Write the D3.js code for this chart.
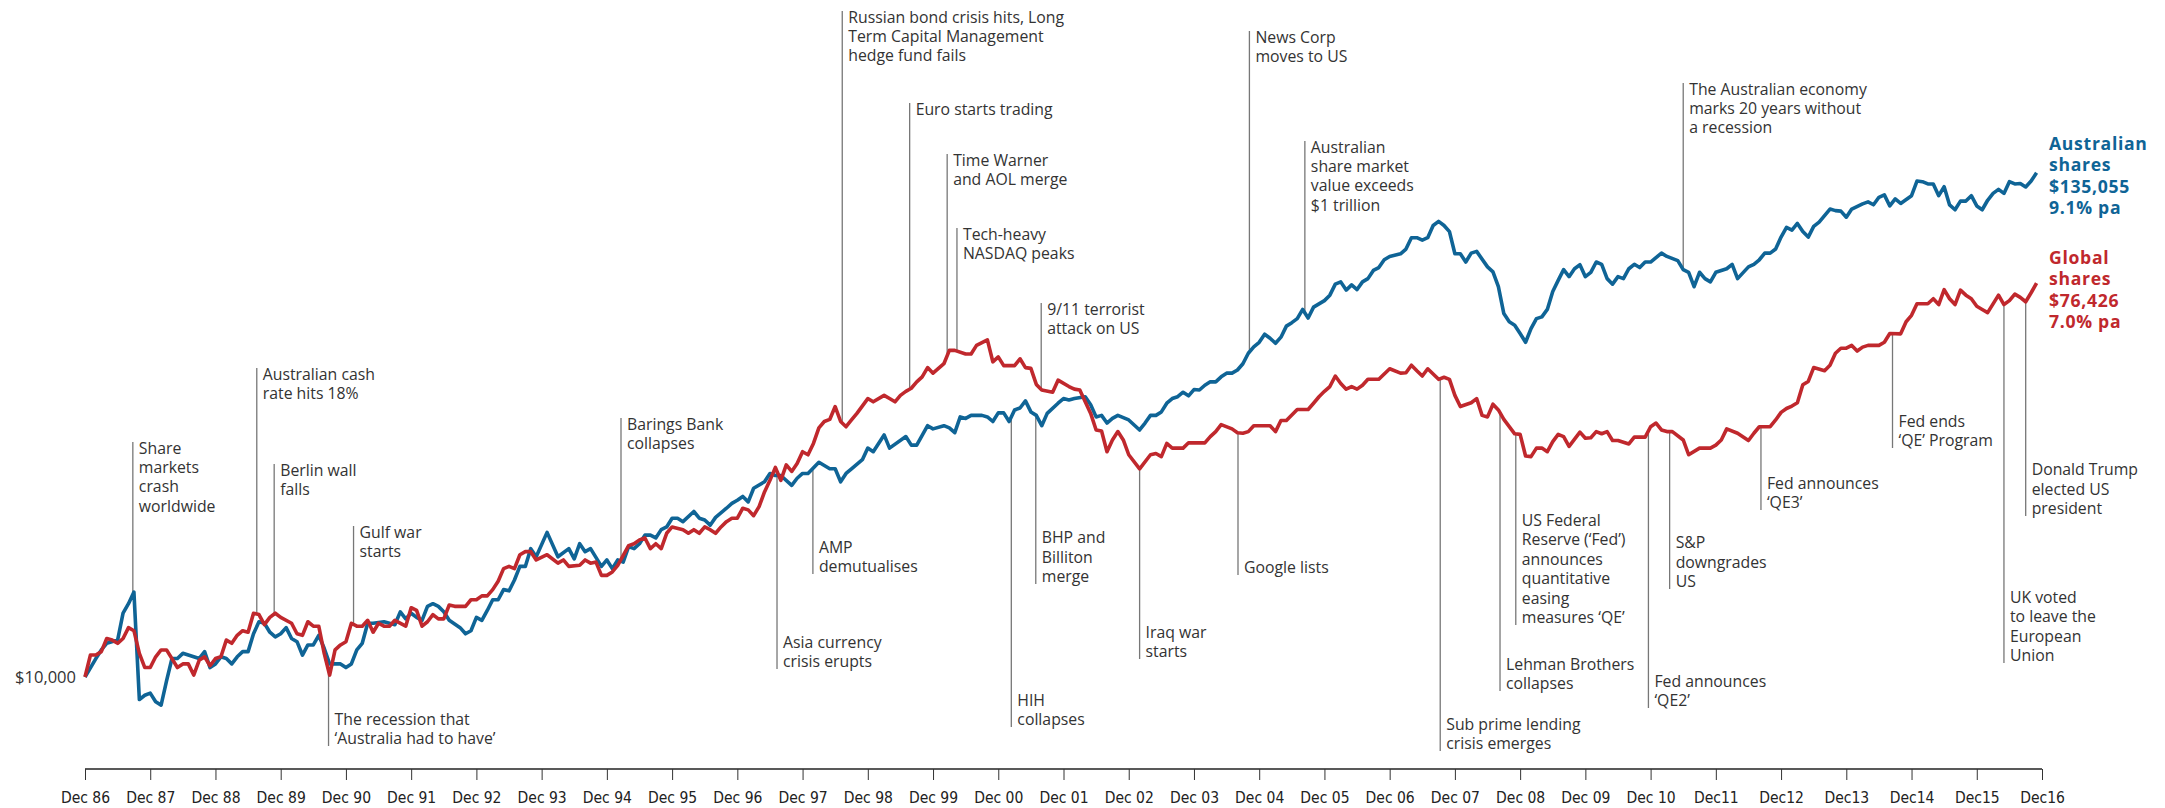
<!DOCTYPE html>
<html>
<head>
<meta charset="utf-8">
<script src="https://cdn.jsdelivr.net/npm/d3@7"></script>
<style>
  body { margin: 0; background: #fff; }
  svg text { font-family: "Open Sans", "Noto Sans", sans-serif; }
</style>
</head>
<body>
<div id="chart"></div>
<script>
// months since Dec 1986, growth of $10,000
const ausMonths = [0,2,3,4,6,7,8,9,10,11,12,13,14,15,16,17,18,20,21,22,23,24,25,26,27,28,29,30,31,32,33,34,35,36,37,38,39,40,41,42,43,44,45,47,48,49,50,51,52,53,55,57,58,59,60,61,62,63,64,65,66,67,69,70,71,72,73,74,75,76,77,78,79,80,81,82,83,85,87,89,90,91,92,93,95,96,97,98,99,100,101,102,103,104,105,106,107,108,109,110,112,113,114,115,116,118,119,120,121,122,123,125,126,127,128,130,131,132,133,135,137,138,139,140,141,143,144,145,147,148,151,152,153,155,156,158,159,160,161,162,163,165,166,167,168,169,170,171,172,173,174,175,176,177,179,180,181,182,184,185,186,187,188,189,190,192,194,195,196,197,198,199,200,201,202,203,204,205,206,207,208,209,210,211,212,213,214,215,216,217,218,219,220,221,222,223,224,225,226,228,229,230,231,232,233,234,235,236,237,238,239,240,242,243,244,245,246,247,248,249,250,251,252,253,254,255,256,258,259,260,261,262,263,264,265,266,267,268,269,270,271,272,273,274,275,276,277,278,279,280,281,282,283,284,285,286,287,288,290,291,293,294,295,296,297,298,299,300,302,303,304,306,307,308,309,310,311,312,313,314,315,316,317,318,319,321,322,323,324,325,327,328,329,330,331,332,333,334,336,337,338,339,340,341,342,343,344,345,346,347,348,349,350,351,352,353,354,355,356,357,358,359];
const ausValues = [10000,11000,11500,11900,12100,13900,14600,15500,8900,9100,9200,8800,8650,9800,11000,11000,11300,11100,11000,11400,10500,10700,11100,11000,10700,11100,11400,11400,12500,13300,13200,12600,12300,12500,12900,12200,12000,11200,11800,11800,12400,11600,10700,10700,10500,10700,11500,11900,13200,13200,13300,13100,14000,13500,13900,13600,13400,14400,14600,14400,14000,13400,12900,12500,12700,13600,13400,14100,14900,14900,15700,15600,16500,17700,17700,19400,18600,21100,18600,19400,18400,19900,19100,19400,17700,18300,17500,18300,18100,19600,19400,19900,20800,20800,20500,21400,21700,22700,22700,22300,23500,22700,22500,21900,22800,23900,24500,24900,25400,24700,26500,27400,28600,28300,28300,26900,27900,28600,28600,30300,29300,29300,27400,28600,29300,30700,32600,32000,34900,32600,34600,33100,33100,36600,36000,36600,36200,35300,38300,38000,38600,38600,38300,37400,39100,39100,37400,39700,40100,41600,39300,38600,36600,39000,41100,42100,41800,42100,42500,40800,38300,38600,37100,38000,38600,37700,35800,37100,38600,38600,39300,41100,42100,42500,43500,42700,44100,44000,45100,45900,45900,47100,48000,48000,48800,50400,53200,55000,56300,58700,57500,56000,57800,61200,62300,63600,66700,63800,67500,69800,71800,76000,76900,73700,75700,73900,76900,78200,81600,82800,86200,87700,88900,91100,96600,96600,95400,96600,102900,105100,102900,99700,88900,88900,85200,89200,90000,83100,81000,75000,65300,62600,61500,58900,56300,60400,63600,64200,66700,73200,77500,81900,79000,82300,84000,79000,80800,85200,84200,78200,76000,79000,78200,82300,84200,82800,85200,85200,89200,87700,85800,81900,80800,75000,80800,78200,76900,80800,82300,84200,78200,83100,84200,86200,89200,89200,91100,96900,101900,100500,104000,99700,96900,102400,104700,112000,111100,110800,107400,112000,115000,116200,114500,119000,120500,113800,118000,115300,120000,129400,129000,127500,127500,120000,125700,114400,111600,116700,116700,120000,113800,111600,117200,121400,124000,121400,129000,127500,127800,125500,129400,135055];

const globalMonths = [0,1,2,3,4,5,6,7,8,9,10,11,12,13,14,15,17,18,19,20,21,22,23,24,25,26,27,28,29,30,31,32,33,34,35,36,38,39,40,41,42,43,44,45,46,47,48,49,50,51,52,53,54,55,56,57,59,60,61,62,63,64,65,66,67,68,70,71,72,73,74,75,76,77,78,79,80,81,82,83,85,87,88,89,91,92,93,94,95,96,97,98,100,101,102,103,104,105,106,107,108,110,111,112,113,114,115,116,117,118,119,120,121,122,123,124,125,126,127,128,129,130,131,132,133,134,135,136,137,138,139,140,141,142,144,145,147,148,149,150,151,152,153,154,155,156,158,159,160,162,163,164,166,167,168,169,171,172,173,174,175,176,178,179,181,182,183,185,186,187,188,189,190,191,192,194,196,197,198,199,200,202,203,204,206,207,208,209,211,212,213,214,215,218,219,220,221,223,225,226,227,228,229,230,231,232,233,234,235,236,238,239,240,242,243,244,245,246,247,248,249,250,251,252,253,255,256,257,258,259,260,261,263,264,265,266,267,268,269,270,271,272,273,275,276,277,278,279,280,281,282,284,285,287,288,289,290,291,292,294,295,297,299,300,301,302,304,306,307,308,310,311,312,313,314,315,316,317,318,320,321,322,323,324,325,326,327,328,330,331,332,334,335,336,337,339,340,341,342,343,344,345,346,347,348,349,350,352,353,354,355,356,357,358,359];
const globalValues = [10000,11200,11200,11400,12200,12100,11900,12200,12900,12700,11300,10500,10500,11100,11500,11500,10500,10700,10700,10100,10900,11100,10600,11000,11100,12100,11900,12400,12700,12600,13900,13800,13100,13600,13900,13600,13200,12500,12400,13300,13000,13000,11300,10100,11500,11800,12000,13200,13000,13000,13400,12600,13200,13000,13000,13400,13000,14300,14100,13000,13300,13800,13500,13500,14500,14400,14400,14900,14900,15200,15200,15700,16400,17500,17700,17500,18800,19100,19100,18300,18800,18000,18300,17700,17800,18300,18000,18100,16900,16900,17200,17800,19700,19900,20300,20500,19400,19900,19400,21000,21700,21400,21000,21400,21000,21700,21400,21000,21700,22300,22700,22700,23900,23700,23000,24100,26000,27600,29500,27600,29900,28900,30100,32000,31500,33400,36200,37400,37800,40400,37400,36400,37700,39000,42100,41400,42800,42100,41400,42800,43700,44400,45900,47100,49400,48000,50400,54000,54000,53000,53000,55400,57000,50900,52200,49900,49900,51700,49400,49200,45300,44000,43500,46300,44800,44200,44000,39000,35800,35600,32000,34000,35500,34000,31500,29300,31500,31700,31200,33400,32600,32600,33500,33500,33500,34600,35500,36800,36000,35300,35200,35500,36600,36600,35500,37600,37600,39800,39800,41100,42500,43700,44800,47300,45500,44200,44800,44200,45100,46500,46500,47800,49100,48000,48100,50000,48600,47300,49100,47800,46500,47000,46500,42800,40400,41200,42100,38600,38300,40900,39700,37800,35100,35000,31300,31200,32600,32600,32000,33700,35000,34600,32900,35400,34300,34400,35500,35100,35500,33900,33900,33300,34500,34500,36400,37100,35800,35500,35500,34000,31500,32600,32600,33100,34000,36000,35200,33900,35200,36400,36400,37700,39200,40000,40500,41200,45200,46000,49400,48600,50000,53200,54600,54600,55400,53800,54900,55400,55400,56300,58900,58800,62600,64700,68700,68700,70500,68400,73900,70500,68400,73700,71800,70500,67800,66700,65600,71800,68400,69800,72200,71000,69400,72700,76426];

const tickLabels = ["Dec 86","Dec 87","Dec 88","Dec 89","Dec 90","Dec 91","Dec 92","Dec 93","Dec 94","Dec 95","Dec 96","Dec 97","Dec 98","Dec 99","Dec 00","Dec 01","Dec 02","Dec 03","Dec 04","Dec 05","Dec 06","Dec 07","Dec 08","Dec 09","Dec 10","Dec11","Dec12","Dec13","Dec14","Dec15","Dec16"];

const ausLabel = ["Australian", "shares", "$135,055", "9.1% pa"];
const globalLabel = ["Global", "shares", "$76,426", "7.0% pa"];

// events: month, whether the label sits above or below the lines, label edge (px), text
const notes = [
  { m: 8.8, dir: "up", edge: 442, lines: ["Share", "markets", "crash", "worldwide"] },
  { m: 31.6, dir: "up", edge: 368, lines: ["Australian cash", "rate hits 18%"] },
  { m: 34.8, dir: "up", edge: 464, lines: ["Berlin wall", "falls"] },
  { m: 44.8, dir: "down", edge: 744, lines: ["The recession that", "\u2018Australia had to have\u2019"] },
  { m: 49.4, dir: "up", edge: 526, lines: ["Gulf war", "starts"] },
  { m: 98.6, dir: "up", edge: 418, lines: ["Barings Bank", "collapses"] },
  { m: 127.3, dir: "down", edge: 667, lines: ["Asia currency", "crisis erupts"] },
  { m: 133.9, dir: "down", edge: 572, lines: ["AMP", "demutualises"] },
  { m: 139.3, dir: "up", edge: 11, lines: ["Russian bond crisis hits, Long", "Term Capital Management", "hedge fund fails"] },
  { m: 151.7, dir: "up", edge: 103, lines: ["Euro starts trading"] },
  { m: 158.6, dir: "up", edge: 154, lines: ["Time Warner", "and AOL merge"] },
  { m: 160.4, dir: "up", edge: 228, lines: ["Tech-heavy", "NASDAQ peaks"] },
  { m: 170.4, dir: "down", edge: 725, lines: ["HIH", "collapses"] },
  { m: 174.9, dir: "down", edge: 582, lines: ["BHP and", "Billiton", "merge"] },
  { m: 175.9, dir: "up", edge: 303, lines: ["9/11 terrorist", "attack on US"] },
  { m: 194.0, dir: "down", edge: 657, lines: ["Iraq war", "starts"] },
  { m: 212.1, dir: "down", edge: 573, lines: ["Google lists"] },
  { m: 214.2, dir: "up", edge: 31, lines: ["News Corp", "moves to US"] },
  { m: 224.4, dir: "up", edge: 141, lines: ["Australian", "share market", "value exceeds", "$1 trillion"] },
  { m: 249.3, dir: "down", edge: 749, lines: ["Sub prime lending", "crisis emerges"] },
  { m: 260.3, dir: "down", edge: 689, lines: ["Lehman Brothers", "collapses"] },
  { m: 263.2, dir: "down", edge: 623, lines: ["US Federal", "Reserve (\u2018Fed\u2019)", "announces", "quantitative", "easing", "measures \u2018QE\u2019"] },
  { m: 287.6, dir: "down", edge: 706, lines: ["Fed announces", "\u2018QE2\u2019"] },
  { m: 291.5, dir: "down", edge: 587, lines: ["S&P", "downgrades", "US"] },
  { m: 294.0, dir: "up", edge: 83, lines: ["The Australian economy", "marks 20 years without", "a recession"] },
  { m: 308.3, dir: "down", edge: 508, lines: ["Fed announces", "\u2018QE3\u2019"] },
  { m: 332.5, dir: "down", edge: 446, lines: ["Fed ends", "\u2018QE\u2019 Program"] },
  { m: 353.0, dir: "down", edge: 661, lines: ["UK voted", "to leave the", "European", "Union"] },
  { m: 357.0, dir: "down", edge: 514, lines: ["Donald Trump", "elected US", "president"] }
];

const w = 2165;
const h = 808;
const blue = "#0f6496";
const red = "#c0282d";
const lh = 19.4;

const svg = d3.select("#chart").append("svg").attr("width", w).attr("height", h);

const x = d3.scaleLinear().domain([0, 360]).range([85, 2042]);
const y = d3.scaleLog().domain([10000, 100000]).range([677, 231]);

const aus = ausMonths.map((m, i) => ({ m: m, v: ausValues[i] }));
const glob = globalMonths.map((m, i) => ({ m: m, v: globalValues[i] }));

function valueAt(months, values, m) {
  const i = d3.bisectLeft(months, m);
  if (i <= 0) return values[0];
  if (i >= months.length) return values[values.length - 1];
  const t = (m - months[i - 1]) / (months[i] - months[i - 1]);
  return Math.exp(Math.log(values[i - 1]) * (1 - t) + Math.log(values[i]) * t);
}

// axis
const axisY = 769;
const xAxis = d3.axisBottom(x)
  .tickValues(d3.range(0, 361, 12))
  .tickFormat((d, i) => tickLabels[i])
  .tickSize(11)
  .tickPadding(12);
const ax = svg.append("g").attr("transform", "translate(0," + axisY + ")").call(xAxis);
ax.select(".domain").attr("stroke", "#222").attr("stroke-width", 1.6).attr("d", "M85,0H2042");
ax.selectAll(".tick line").attr("stroke", "#333").attr("stroke-width", 1);
ax.selectAll(".tick text")
  .attr("fill", "#222")
  .style("font-family", "'DejaVu Sans Condensed', 'DejaVu Sans', sans-serif")
  .style("font-stretch", "condensed")
  .style("font-size", "15.5px");

svg.append("text")
  .attr("x", 76)
  .attr("y", y(10000) + 6)
  .attr("text-anchor", "end")
  .attr("fill", "#333")
  .style("font-size", "16.5px")
  .text("$10,000");

// annotation lines and text
const ng = svg.append("g");
notes.forEach((n) => {
  const lx = x(n.m);
  const ya = y(valueAt(ausMonths, ausValues, n.m));
  const yg = y(valueAt(globalMonths, globalValues, n.m));
  const yData = n.dir === "up" ? Math.min(ya, yg) : Math.max(ya, yg);
  const yEnd = n.dir === "up" ? n.edge : n.edge + 2;
  ng.append("line")
    .attr("x1", lx).attr("x2", lx)
    .attr("y1", yData).attr("y2", yEnd)
    .attr("stroke", "#777")
    .attr("stroke-width", 1.3);
  const first = n.dir === "up" ? n.edge + 11.5 : n.edge - (n.lines.length - 1) * lh;
  const t = ng.append("text")
    .attr("x", lx + 6)
    .attr("fill", "#333")
    .style("font-size", "15.8px");
  n.lines.forEach((s, i) => {
    t.append("tspan").attr("x", lx + 6).attr("y", first + i * lh).text(s);
  });
});

// series
const line = d3.line().x((d) => x(d.m)).y((d) => y(d.v));
svg.append("path")
  .datum(aus)
  .attr("d", line)
  .attr("fill", "none")
  .attr("stroke", blue)
  .attr("stroke-width", 3.6)
  .attr("stroke-linejoin", "round");
svg.append("path")
  .datum(glob)
  .attr("d", line)
  .attr("fill", "none")
  .attr("stroke", red)
  .attr("stroke-width", 3.6)
  .attr("stroke-linejoin", "round");

// end labels
function endLabel(lines, color, y0) {
  const t = svg.append("text")
    .attr("fill", color)
    .style("font-family", "'Open Sans', Lato, sans-serif")
    .style("font-weight", 700)
    .style("font-size", "17.6px")
    .style("letter-spacing", "0.7px");
  lines.forEach((s, i) => {
    t.append("tspan").attr("x", 2049).attr("y", y0 + i * 21.4).text(s);
  });
}
endLabel(ausLabel, blue, 150);
endLabel(globalLabel, red, 264);
</script>
</body>
</html>
